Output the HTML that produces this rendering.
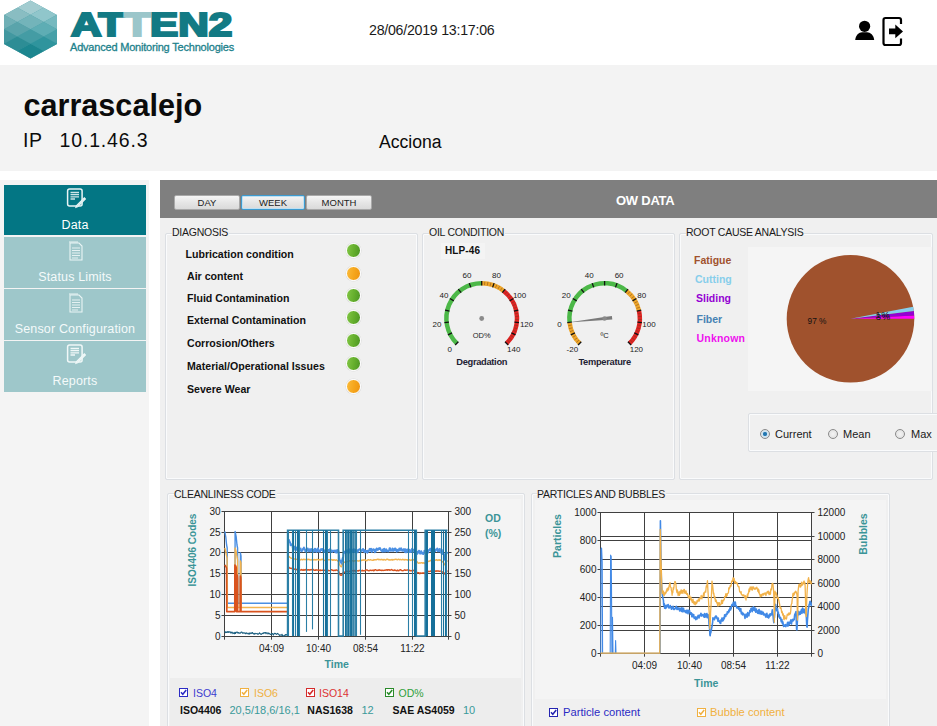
<!DOCTYPE html>
<html><head><meta charset="utf-8"><title>ATTEN2 - OW Data</title>
<style>
*{box-sizing:border-box;margin:0;padding:0}
html,body{width:937px;height:726px;overflow:hidden;background:#fff;font-family:"Liberation Sans",Arial,sans-serif;color:#111}
.a{position:absolute;white-space:nowrap}
#hdr{left:0;top:0;width:937px;height:65px;background:#fff}
#band{left:0;top:65px;width:937px;height:106px;background:#f3f3f3}
#side{left:0;top:180px;width:149px;height:546px;background:#f4f4f4}
.nav{position:absolute;left:4px;width:142px;height:50.6px;background:#9ec7ca;color:#f4fafa;font-size:12.5px;letter-spacing:0.15px;text-align:center}
.nav.on{background:#037684;color:#fff}
.nav .lbl{position:absolute;left:0;right:0;top:33px;line-height:14px}
.nav svg{position:absolute;left:59.5px;top:3px}
#main{left:160px;top:180px;width:777px;height:546px;background:#f0f0f0}
#bar{left:160px;top:180px;width:777px;height:37.7px;background:#7f7f7f}
.btn{position:absolute;top:195px;height:15px;border:1px solid #a9a9a9;border-radius:2px;background:linear-gradient(#f6f6f6,#e6e6e6 50%,#dadada);font-size:9.5px;color:#222;text-align:center;line-height:13px}
.btn.sel{border-color:#3d9bd0;box-shadow:inset 0 0 0 1px #bfe0f2}
.gb{position:absolute;border:1px solid #dcdfe3;border-radius:2px;box-shadow:inset 0 0 0 1px #fafbfc}
.gbt{position:absolute;font-size:10.5px;letter-spacing:-0.25px;color:#1a1a1a;background:#f0f0f0;padding:0 1px 0 0;line-height:12px}
.di{position:absolute;left:187px;font-size:10.6px;font-weight:bold;color:#111;line-height:13px}
.led{position:absolute;left:345.5px;width:15.4px;height:15.4px;border-radius:50%;border:1.4px solid #fff;box-shadow:0 0 0 0.6px #dcdcdc}
.led.g{background:linear-gradient(100deg,#82c646,#64ae2c 55%,#4c9524)}
.led.o{background:linear-gradient(100deg,#fbbb3a,#f5a51c 55%,#ee9410)}
.gl{font-family:"Liberation Sans",sans-serif;font-size:8px;fill:#222}
.gu{font-family:"Liberation Sans",sans-serif;font-size:7.5px;fill:#222}
.pl2{font-family:"Liberation Sans",sans-serif;font-size:9.5px;letter-spacing:-1px;fill:#141420}
.gt{font-family:"Liberation Sans",sans-serif;font-size:9.3px;letter-spacing:-0.3px;font-weight:bold;fill:#1e2233}
.al{font-family:"Liberation Sans",sans-serif;font-size:10px;fill:#222}
.pl{font-family:"Liberation Sans",sans-serif;font-size:8.3px;fill:#111}
.lg{position:absolute;left:694px;font-size:10.5px;font-weight:bold;line-height:13px}
.rb{position:absolute;top:429px;width:10px;height:10px;border-radius:50%;border:1px solid #8a8a8a;background:radial-gradient(circle,#f4f4f4,#dcdcdc)}
.rl{position:absolute;top:427px;font-size:11px;color:#1a1a1a;line-height:14px}
.cb{display:inline-block;width:8.5px;height:8.5px;border:1px solid currentColor;position:relative;top:0px;margin-right:5.5px;font-size:8px;line-height:7px;text-align:center;font-weight:bold}
.tl{position:absolute;font-size:10.5px;line-height:13px}
</style></head><body>
<div class="a" id="hdr"></div>
<svg width="62" height="62" viewBox="0 0 62 62" style="position:absolute;left:0;top:0"><defs><clipPath id="hc"><polygon points="30.5,0.5 57,15 57,44 30.5,58.5 4,44 4,15"/></clipPath></defs><polygon points="30.5,0.5 57,15 57,44 30.5,58.5 4,44 4,15" fill="#4a9ea6"/><g clip-path="url(#hc)"><polygon points="4,0.2 17.2,7.5 4,14.8 -9.2,7.5" fill="rgb(158,199,203)"/><polygon points="30.5,0.2 43.8,7.5 30.5,14.8 17.2,7.5" fill="rgb(162,204,208)"/><polygon points="57,0.2 70.2,7.5 57,14.8 43.8,7.5" fill="rgb(166,210,214)"/><polygon points="-9.2,7.5 4,14.8 -9.2,22 -22.5,14.8" fill="rgb(137,189,194)"/><polygon points="17.2,7.5 30.5,14.8 17.2,22 4,14.8" fill="rgb(137,189,194)"/><polygon points="43.8,7.5 57,14.8 43.8,22 30.5,14.8" fill="rgb(144,198,203)"/><polygon points="70.2,7.5 83.5,14.8 70.2,22 57,14.8" fill="rgb(144,198,203)"/><polygon points="4,14.8 17.2,22 4,29.2 -9.2,22" fill="rgb(112,176,182)"/><polygon points="30.5,14.8 43.8,22 30.5,29.2 17.2,22" fill="rgb(115,180,186)"/><polygon points="57,14.8 70.2,22 57,29.2 43.8,22" fill="rgb(118,185,191)"/><polygon points="-9.2,22 4,29.2 -9.2,36.5 -22.5,29.2" fill="rgb(90,164,171)"/><polygon points="17.2,22 30.5,29.2 17.2,36.5 4,29.2" fill="rgb(90,164,171)"/><polygon points="43.8,22 57,29.2 43.8,36.5 30.5,29.2" fill="rgb(94,173,180)"/><polygon points="70.2,22 83.5,29.2 70.2,36.5 57,29.2" fill="rgb(94,173,180)"/><polygon points="4,29.2 17.2,36.5 4,43.8 -9.2,36.5" fill="rgb(66,152,160)"/><polygon points="30.5,29.2 43.8,36.5 30.5,43.8 17.2,36.5" fill="rgb(68,156,164)"/><polygon points="57,29.2 70.2,36.5 57,43.8 43.8,36.5" fill="rgb(70,160,168)"/><polygon points="-9.2,36.5 4,43.8 -9.2,51 -22.5,43.8" fill="rgb(45,141,149)"/><polygon points="17.2,36.5 30.5,43.8 17.2,51 4,43.8" fill="rgb(45,141,149)"/><polygon points="43.8,36.5 57,43.8 43.8,51 30.5,43.8" fill="rgb(47,148,157)"/><polygon points="70.2,36.5 83.5,43.8 70.2,51 57,43.8" fill="rgb(47,148,157)"/><polygon points="4,43.8 17.2,51 4,58.2 -9.2,51" fill="rgb(27,131,140)"/><polygon points="30.5,43.8 43.8,51 30.5,58.2 17.2,51" fill="rgb(28,134,143)"/><polygon points="57,43.8 70.2,51 57,58.2 43.8,51" fill="rgb(28,138,147)"/><polygon points="-9.2,51 4,58.2 -9.2,65.5 -22.5,58.2" fill="rgb(17,123,132)"/><polygon points="17.2,51 30.5,58.2 17.2,65.5 4,58.2" fill="rgb(17,123,132)"/><polygon points="43.8,51 57,58.2 43.8,65.5 30.5,58.2" fill="rgb(18,129,139)"/><polygon points="70.2,51 83.5,58.2 70.2,65.5 57,58.2" fill="rgb(18,129,139)"/><polygon points="4,58.2 17.2,65.5 4,72.8 -9.2,65.5" fill="rgb(13,117,127)"/><polygon points="30.5,58.2 43.8,65.5 30.5,72.8 17.2,65.5" fill="rgb(14,120,130)"/><polygon points="57,58.2 70.2,65.5 57,72.8 43.8,65.5" fill="rgb(14,123,133)"/></g></svg>
<div class="a" style="left:71px;top:7px;font-size:32.5px;font-weight:bold;color:#137a84;letter-spacing:0px;-webkit-text-stroke:2.2px currentColor;transform:scaleX(1.3);transform-origin:0 0;line-height:37px">AT<span style="color:#9bc6ca;-webkit-text-stroke:2.2px #9bc6ca">T</span>EN2</div>
<div class="a" style="left:70px;top:40.8px;font-size:11px;color:#1c818b;letter-spacing:-0.2px;-webkit-text-stroke:0.3px currentColor;line-height:13px">Advanced Monitoring Technologies</div>
<div class="a" style="left:369px;top:21.5px;font-size:14.2px;letter-spacing:-0.25px;color:#1a1a1a;line-height:16px">28/06/2019 13:17:06</div>
<svg class="a" style="left:850px;top:14px" width="60" height="36" viewBox="850 14 60 36">
  <circle cx="864.6" cy="26.3" r="5.6" fill="#000"/>
  <path d="M855.2,40 C855.6,35 859,32.2 862,32.2 L867.2,32.2 C870.2,32.2 873.8,35 874.2,40 Z" fill="#000"/>
  <path d="M901,24 L901,20 Q901,18 899,18 L885.5,18 Q883.5,18 883.5,20 L883.5,43 Q883.5,45 885.5,45 L899,45 Q901,45 901,43 L901,38.5" fill="none" stroke="#000" stroke-width="2.2"/>
  <path d="M889,28.6 L895.3,28.6 L895.3,24.6 L903,31.4 L895.3,38.2 L895.3,34.2 L889,34.2 Z" fill="#000"/>
</svg>

<div class="a" id="band"></div>
<div class="a" style="left:23.5px;top:87px;font-size:30.6px;font-weight:bold;color:#0b0b0b;line-height:36px">carrascalejo</div>
<div class="a" style="left:23px;top:129px;font-size:19.5px;letter-spacing:0.6px;color:#0b0b0b;line-height:22px">IP</div>
<div class="a" style="left:59.5px;top:129px;font-size:19.5px;color:#0b0b0b;letter-spacing:0.85px;line-height:22px">10.1.46.3</div>
<div class="a" style="left:379px;top:132px;font-size:17.6px;color:#0b0b0b;line-height:21px">Acciona</div>

<div class="a" id="side"></div>
<div class="nav on" style="top:184.9px"><svg width="22" height="22" viewBox="0 0 22 22"><rect x="3.6" y="1" width="14.5" height="17" rx="2" fill="none" stroke="#e8f4f5" stroke-width="1.5"/><path d="M6.5 4.5h8.5M6.5 6.6h8.5M6.5 8.8h8.5M6.5 11h4.5" stroke="#cfe6e8" stroke-width="1.3"/><path d="M12.5 17.8 L20.3 10 L21.3 11 L13.5 18.8 L12 19.3 Z" fill="#037684" stroke="#e8f4f5" stroke-width="1.3"/></svg><div class="lbl">Data</div></div>
<div class="nav" style="top:237px"><svg width="22" height="22" viewBox="0 0 22 22"><path d="M6 3 h9 l3 3 v14 h-12 z" fill="none" stroke="#eaf5f5" stroke-width="1.1"/><path d="M5 2 h9" stroke="#eaf5f5" stroke-width="1"/><path d="M8 8h8M8 10.5h8M8 13h8M8 15.5h8M8 18h6" stroke="#e4f1f2" stroke-width="1"/></svg><div class="lbl">Status Limits</div></div>
<div class="nav" style="top:289.1px"><svg width="22" height="22" viewBox="0 0 22 22"><path d="M6 3 h9 l3 3 v14 h-12 z" fill="none" stroke="#eaf5f5" stroke-width="1.1"/><path d="M5 2 h9" stroke="#eaf5f5" stroke-width="1"/><path d="M8 8h8M8 10.5h8M8 13h8M8 15.5h8M8 18h6" stroke="#e4f1f2" stroke-width="1"/></svg><div class="lbl">Sensor Configuration</div></div>
<div class="nav" style="top:341.2px"><svg width="22" height="22" viewBox="0 0 22 22"><rect x="3.6" y="1" width="14.5" height="17" rx="2" fill="none" stroke="#f0f8f8" stroke-width="1.5"/><path d="M6.5 4.5h8.5M6.5 6.6h8.5M6.5 8.8h8.5M6.5 11h4.5" stroke="#f0f8f8" stroke-width="1.3"/><path d="M12.5 17.8 L20.3 10 L21.3 11 L13.5 18.8 L12 19.3 Z" fill="#9ec7ca" stroke="#f0f8f8" stroke-width="1.3"/></svg><div class="lbl">Reports</div></div>

<div class="a" id="main"></div>
<div class="a" id="bar"></div>
<div class="btn" style="left:174px;width:66px">DAY</div>
<div class="btn sel" style="left:241px;width:64px">WEEK</div>
<div class="btn" style="left:306px;width:66px">MONTH</div>
<div class="a" style="left:616px;top:193px;font-size:13px;letter-spacing:-0.25px;font-weight:bold;color:#fff;line-height:15px">OW DATA</div>

<!-- group boxes -->
<div class="gb" style="left:165px;top:233px;width:253px;height:247px"></div>
<div class="gbt" style="left:172px;top:226px">DIAGNOSIS</div>
<div class="gb" style="left:422px;top:233px;width:253px;height:247px"></div>
<div class="gbt" style="left:429px;top:226px">OIL CONDITION</div>
<div class="gb" style="left:679px;top:233px;width:254px;height:247px"></div>
<div class="gbt" style="left:686px;top:226px">ROOT CAUSE ANALYSIS</div>

<div class="di" style="top:248px;left:185.5px">Lubrication condition</div>
<div class="di" style="top:270px">Air content</div>
<div class="di" style="top:292px">Fluid Contamination</div>
<div class="di" style="top:314px">External Contamination</div>
<div class="di" style="top:337px">Corrosion/Others</div>
<div class="di" style="top:360px">Material/Operational Issues</div>
<div class="di" style="top:383px">Severe Wear</div>
<div class="led g" style="top:243px"></div>
<div class="led o" style="top:265.7px"></div>
<div class="led g" style="top:287.7px"></div>
<div class="led g" style="top:309.7px"></div>
<div class="led g" style="top:332.7px"></div>
<div class="led g" style="top:355.7px"></div>
<div class="led o" style="top:378.7px"></div>

<div class="a" style="left:441px;top:243px;width:44px;height:16px;background:#f4f4f4"></div>
<div class="a" style="left:445px;top:244px;font-size:10px;letter-spacing:0.1px;font-weight:bold;color:#111;line-height:13px">HLP-46</div>

<div class="lg" style="top:254px;color:#a0522d">Fatigue</div>
<div class="lg" style="top:273px;left:695px;color:#87ceeb">Cutting</div>
<div class="lg" style="top:292px;left:696px;color:#9400d3">Sliding</div>
<div class="lg" style="top:313px;left:696.5px;color:#4682b4">Fiber</div>
<div class="lg" style="top:332px;left:696.5px;letter-spacing:0.2px;color:#ee10ee">Unknown</div>
<div class="a" style="left:748px;top:247px;width:184px;height:144px;background:#f5f5f5"></div>

<div class="gb" style="left:748px;top:413px;width:200px;height:39px;background:#f0f0f0"></div>
<div class="rb" style="left:760px;background:radial-gradient(circle,#1f6fa8 0,#2c7fb8 30%,#cfe3f0 45%,#e8e8e8)"></div>
<div class="rl" style="left:775px">Current</div>
<div class="rb" style="left:828px"></div>
<div class="rl" style="left:843px">Mean</div>
<div class="rb" style="left:895px"></div>
<div class="rl" style="left:911px">Max</div>

<div class="gb" style="left:167px;top:493px;width:358px;height:240px"></div>
<div class="gbt" style="left:174px;top:488px">CLEANLINESS CODE</div>
<div class="a" style="left:170px;top:499px;width:351px;height:179px;background:#f4f4f4"></div>
<div class="a" style="left:170px;top:678px;width:351px;height:48px;background:#ededed"></div>

<div class="gb" style="left:531px;top:493px;width:359px;height:240px"></div>
<div class="gbt" style="left:537px;top:488px">PARTICLES AND BUBBLES</div>
<div class="a" style="left:535px;top:500px;width:351px;height:199px;background:#f4f4f4"></div>

<svg width="937" height="726" style="position:absolute;left:0;top:0" viewBox="0 0 937 726"><path d="M456.8,343.4 A35.2,35.2 0 0 1 481.7,283.2" fill="none" stroke="#4cb848" stroke-width="4.5"/><path d="M481.7,283.2 A35.2,35.2 0 0 1 503.7,290.9" fill="none" stroke="#eea62a" stroke-width="4.5"/><path d="M503.7,290.9 A35.2,35.2 0 0 1 506.6,343.4" fill="none" stroke="#e02424" stroke-width="4.5"/><line x1="458.4" y1="341.8" x2="455.2" y2="345" stroke="#111" stroke-width="1.3"/><line x1="452" y1="332.8" x2="447.9" y2="334.8" stroke="#111" stroke-width="1.3"/><line x1="448.9" y1="322.2" x2="444.4" y2="322.7" stroke="#111" stroke-width="1.3"/><line x1="449.5" y1="311.2" x2="445.1" y2="310.2" stroke="#111" stroke-width="1.3"/><line x1="453.8" y1="300.9" x2="449.9" y2="298.5" stroke="#111" stroke-width="1.3"/><line x1="461.1" y1="292.7" x2="458.3" y2="289.2" stroke="#111" stroke-width="1.3"/><line x1="470.8" y1="287.4" x2="469.3" y2="283.1" stroke="#111" stroke-width="1.3"/><line x1="481.7" y1="285.5" x2="481.7" y2="281" stroke="#111" stroke-width="1.3"/><line x1="492.6" y1="287.4" x2="494.1" y2="283.1" stroke="#111" stroke-width="1.3"/><line x1="502.3" y1="292.7" x2="505.1" y2="289.2" stroke="#111" stroke-width="1.3"/><line x1="509.6" y1="300.9" x2="513.5" y2="298.5" stroke="#111" stroke-width="1.3"/><line x1="513.9" y1="311.2" x2="518.3" y2="310.2" stroke="#111" stroke-width="1.3"/><line x1="514.5" y1="322.2" x2="519" y2="322.7" stroke="#111" stroke-width="1.3"/><line x1="511.4" y1="332.8" x2="515.5" y2="334.8" stroke="#111" stroke-width="1.3"/><line x1="505" y1="341.8" x2="508.2" y2="345" stroke="#111" stroke-width="1.3"/><line x1="484.5" y1="285.1" x2="484.8" y2="281.6" stroke="#6b3a1a" stroke-opacity="0.55" stroke-width="0.8"/><line x1="487.3" y1="285.5" x2="487.9" y2="282" stroke="#6b3a1a" stroke-opacity="0.55" stroke-width="0.8"/><line x1="490.1" y1="286.1" x2="490.9" y2="282.7" stroke="#6b3a1a" stroke-opacity="0.55" stroke-width="0.8"/><line x1="495.4" y1="287.9" x2="496.8" y2="284.7" stroke="#6b3a1a" stroke-opacity="0.55" stroke-width="0.8"/><line x1="497.9" y1="289.2" x2="499.6" y2="286.1" stroke="#6b3a1a" stroke-opacity="0.55" stroke-width="0.8"/><line x1="500.3" y1="290.6" x2="502.3" y2="287.7" stroke="#6b3a1a" stroke-opacity="0.55" stroke-width="0.8"/><line x1="504.7" y1="294.2" x2="507.1" y2="291.6" stroke="#6b3a1a" stroke-opacity="0.55" stroke-width="0.8"/><line x1="506.7" y1="296.2" x2="509.3" y2="293.8" stroke="#6b3a1a" stroke-opacity="0.55" stroke-width="0.8"/><line x1="508.5" y1="298.4" x2="511.3" y2="296.3" stroke="#6b3a1a" stroke-opacity="0.55" stroke-width="0.8"/><line x1="511.5" y1="303.1" x2="514.6" y2="301.5" stroke="#6b3a1a" stroke-opacity="0.55" stroke-width="0.8"/><line x1="512.6" y1="305.7" x2="515.9" y2="304.3" stroke="#6b3a1a" stroke-opacity="0.55" stroke-width="0.8"/><line x1="513.6" y1="308.3" x2="517" y2="307.3" stroke="#6b3a1a" stroke-opacity="0.55" stroke-width="0.8"/><line x1="514.9" y1="313.8" x2="518.3" y2="313.3" stroke="#6b3a1a" stroke-opacity="0.55" stroke-width="0.8"/><line x1="515.1" y1="316.6" x2="518.6" y2="316.4" stroke="#6b3a1a" stroke-opacity="0.55" stroke-width="0.8"/><line x1="515.2" y1="319.4" x2="518.7" y2="319.5" stroke="#6b3a1a" stroke-opacity="0.55" stroke-width="0.8"/><line x1="514.6" y1="325" x2="518" y2="325.7" stroke="#6b3a1a" stroke-opacity="0.55" stroke-width="0.8"/><line x1="513.9" y1="327.8" x2="517.3" y2="328.7" stroke="#6b3a1a" stroke-opacity="0.55" stroke-width="0.8"/><line x1="513" y1="330.4" x2="516.3" y2="331.7" stroke="#6b3a1a" stroke-opacity="0.55" stroke-width="0.8"/><line x1="510.6" y1="335.5" x2="513.6" y2="337.3" stroke="#6b3a1a" stroke-opacity="0.55" stroke-width="0.8"/><line x1="509" y1="337.9" x2="511.9" y2="339.9" stroke="#6b3a1a" stroke-opacity="0.55" stroke-width="0.8"/><line x1="507.3" y1="340.1" x2="510" y2="342.4" stroke="#6b3a1a" stroke-opacity="0.55" stroke-width="0.8"/><text x="449.8" y="351.8" text-anchor="middle" class="gl">0</text><text x="437" y="326.5" text-anchor="middle" class="gl">20</text><text x="444" y="297.6" text-anchor="middle" class="gl">40</text><text x="466.9" y="278.4" text-anchor="middle" class="gl">60</text><text x="496.5" y="278.4" text-anchor="middle" class="gl">80</text><text x="519.6" y="297.6" text-anchor="middle" class="gl">100</text><text x="526.6" y="326.5" text-anchor="middle" class="gl">120</text><text x="513.8" y="351.8" text-anchor="middle" class="gl">140</text><text x="481.7" y="337.5" text-anchor="middle" class="gu">OD%</text><text x="481.7" y="365" text-anchor="middle" class="gt">Degradation</text><circle cx="481.7" cy="318.5" r="2.4" fill="#8a8a8a"/><path d="M579.7,343.4 A35.2,35.2 0 0 1 569.6,322.4" fill="none" stroke="#eea62a" stroke-width="4.5"/><path d="M569.6,322.4 A35.2,35.2 0 0 1 626.6,290.9" fill="none" stroke="#4cb848" stroke-width="4.5"/><path d="M626.6,290.9 A35.2,35.2 0 0 1 639,310.7" fill="none" stroke="#eea62a" stroke-width="4.5"/><path d="M639,310.7 A35.2,35.2 0 0 1 629.5,343.4" fill="none" stroke="#e02424" stroke-width="4.5"/><line x1="581.3" y1="341.8" x2="578.1" y2="345" stroke="#111" stroke-width="1.3"/><line x1="574.9" y1="332.8" x2="570.8" y2="334.8" stroke="#111" stroke-width="1.3"/><line x1="571.8" y1="322.2" x2="567.3" y2="322.7" stroke="#111" stroke-width="1.3"/><line x1="572.4" y1="311.2" x2="568" y2="310.2" stroke="#111" stroke-width="1.3"/><line x1="576.7" y1="300.9" x2="572.8" y2="298.5" stroke="#111" stroke-width="1.3"/><line x1="584" y1="292.7" x2="581.2" y2="289.2" stroke="#111" stroke-width="1.3"/><line x1="593.7" y1="287.4" x2="592.2" y2="283.1" stroke="#111" stroke-width="1.3"/><line x1="604.6" y1="285.5" x2="604.6" y2="281" stroke="#111" stroke-width="1.3"/><line x1="615.5" y1="287.4" x2="617" y2="283.1" stroke="#111" stroke-width="1.3"/><line x1="625.2" y1="292.7" x2="628" y2="289.2" stroke="#111" stroke-width="1.3"/><line x1="632.5" y1="300.9" x2="636.4" y2="298.5" stroke="#111" stroke-width="1.3"/><line x1="636.8" y1="311.2" x2="641.2" y2="310.2" stroke="#111" stroke-width="1.3"/><line x1="637.4" y1="322.2" x2="641.9" y2="322.7" stroke="#111" stroke-width="1.3"/><line x1="634.3" y1="332.8" x2="638.4" y2="334.8" stroke="#111" stroke-width="1.3"/><line x1="627.9" y1="341.8" x2="631.1" y2="345" stroke="#111" stroke-width="1.3"/><line x1="579" y1="340.1" x2="576.3" y2="342.4" stroke="#6b3a1a" stroke-opacity="0.55" stroke-width="0.8"/><line x1="577.3" y1="337.9" x2="574.4" y2="339.9" stroke="#6b3a1a" stroke-opacity="0.55" stroke-width="0.8"/><line x1="575.7" y1="335.5" x2="572.7" y2="337.3" stroke="#6b3a1a" stroke-opacity="0.55" stroke-width="0.8"/><line x1="573.3" y1="330.4" x2="570" y2="331.7" stroke="#6b3a1a" stroke-opacity="0.55" stroke-width="0.8"/><line x1="572.4" y1="327.8" x2="569" y2="328.7" stroke="#6b3a1a" stroke-opacity="0.55" stroke-width="0.8"/><line x1="571.7" y1="325" x2="568.3" y2="325.7" stroke="#6b3a1a" stroke-opacity="0.55" stroke-width="0.8"/><line x1="627.6" y1="294.2" x2="630" y2="291.6" stroke="#6b3a1a" stroke-opacity="0.55" stroke-width="0.8"/><line x1="629.6" y1="296.2" x2="632.2" y2="293.8" stroke="#6b3a1a" stroke-opacity="0.55" stroke-width="0.8"/><line x1="631.4" y1="298.4" x2="634.2" y2="296.3" stroke="#6b3a1a" stroke-opacity="0.55" stroke-width="0.8"/><line x1="634.4" y1="303.1" x2="637.5" y2="301.5" stroke="#6b3a1a" stroke-opacity="0.55" stroke-width="0.8"/><line x1="635.5" y1="305.7" x2="638.8" y2="304.3" stroke="#6b3a1a" stroke-opacity="0.55" stroke-width="0.8"/><line x1="636.5" y1="308.3" x2="639.9" y2="307.3" stroke="#6b3a1a" stroke-opacity="0.55" stroke-width="0.8"/><line x1="637.8" y1="313.8" x2="641.2" y2="313.3" stroke="#6b3a1a" stroke-opacity="0.55" stroke-width="0.8"/><line x1="638" y1="316.6" x2="641.5" y2="316.4" stroke="#6b3a1a" stroke-opacity="0.55" stroke-width="0.8"/><line x1="638.1" y1="319.4" x2="641.6" y2="319.5" stroke="#6b3a1a" stroke-opacity="0.55" stroke-width="0.8"/><line x1="637.5" y1="325" x2="640.9" y2="325.7" stroke="#6b3a1a" stroke-opacity="0.55" stroke-width="0.8"/><line x1="636.8" y1="327.8" x2="640.2" y2="328.7" stroke="#6b3a1a" stroke-opacity="0.55" stroke-width="0.8"/><line x1="635.9" y1="330.4" x2="639.2" y2="331.7" stroke="#6b3a1a" stroke-opacity="0.55" stroke-width="0.8"/><line x1="633.5" y1="335.5" x2="636.5" y2="337.3" stroke="#6b3a1a" stroke-opacity="0.55" stroke-width="0.8"/><line x1="631.9" y1="337.9" x2="634.8" y2="339.9" stroke="#6b3a1a" stroke-opacity="0.55" stroke-width="0.8"/><line x1="630.2" y1="340.1" x2="632.9" y2="342.4" stroke="#6b3a1a" stroke-opacity="0.55" stroke-width="0.8"/><text x="572.4" y="351.8" text-anchor="middle" class="gl">-20</text><text x="559.4" y="326.5" text-anchor="middle" class="gl">0</text><text x="566.2" y="297.6" text-anchor="middle" class="gl">20</text><text x="589.3" y="278.4" text-anchor="middle" class="gl">40</text><text x="619.1" y="278.4" text-anchor="middle" class="gl">60</text><text x="641.8" y="297.6" text-anchor="middle" class="gl">80</text><text x="649" y="326.5" text-anchor="middle" class="gl">100</text><text x="636.4" y="351.8" text-anchor="middle" class="gl">120</text><text x="604.6" y="337.5" text-anchor="middle" class="gu">ºC</text><text x="604.6" y="365" text-anchor="middle" class="gt">Temperature</text><polygon points="567.8,322.6 604.8,319.9 612.3,319.4 611.9,315.9 604.4,317.1" fill="#7a7a7a"/><circle cx="604.6" cy="318.5" r="2.2" fill="#8a8a8a"/></svg>
<svg width="937" height="726" style="position:absolute;left:0;top:0" viewBox="0 0 937 726"><circle cx="850.5" cy="318.8" r="63.8" fill="#a0522d"/><path d="M850.5,318.8 L914.3,318.8 A63.8,63.8 0 0 0 914.2,315.5 Z" fill="#ff00ff"/><path d="M850.5,318.8 L914.2,315.5 A63.8,63.8 0 0 0 913.8,311 Z" fill="#9400d3"/><path d="M850.5,318.8 L913.8,311 A63.8,63.8 0 0 0 913.2,306.8 Z" fill="#87ceeb"/><text x="817" y="324" text-anchor="middle" class="pl">97 %</text><text x="875.3" y="318.3" class="pl2">1 %</text><text x="875.8" y="320.3" class="pl2">3 %</text><rect x="224.5" y="511.1" width="224" height="125.6" fill="#fff"/><line x1="221.5" y1="636.5" x2="451.5" y2="636.5" stroke="#404040" stroke-width="1"/><text x="220.5" y="640" text-anchor="end" class="al">0</text><text x="454.5" y="640" class="al">0</text><line x1="221.5" y1="615.5" x2="451.5" y2="615.5" stroke="#404040" stroke-width="1"/><text x="220.5" y="619" text-anchor="end" class="al">5</text><text x="454.5" y="619" class="al">50</text><line x1="221.5" y1="594.5" x2="451.5" y2="594.5" stroke="#404040" stroke-width="1"/><text x="220.5" y="598" text-anchor="end" class="al">10</text><text x="454.5" y="598" class="al">100</text><line x1="221.5" y1="573.5" x2="451.5" y2="573.5" stroke="#404040" stroke-width="1"/><text x="220.5" y="577" text-anchor="end" class="al">15</text><text x="454.5" y="577" class="al">150</text><line x1="221.5" y1="552.5" x2="451.5" y2="552.5" stroke="#404040" stroke-width="1"/><text x="220.5" y="556" text-anchor="end" class="al">20</text><text x="454.5" y="556" class="al">200</text><line x1="221.5" y1="532.5" x2="451.5" y2="532.5" stroke="#404040" stroke-width="1"/><text x="220.5" y="536" text-anchor="end" class="al">25</text><text x="454.5" y="536" class="al">250</text><line x1="221.5" y1="511.5" x2="451.5" y2="511.5" stroke="#404040" stroke-width="1"/><text x="220.5" y="515" text-anchor="end" class="al">30</text><text x="454.5" y="515" class="al">300</text><line x1="224.5" y1="511.1" x2="224.5" y2="639.7" stroke="#404040" stroke-width="1"/><line x1="271.5" y1="511.1" x2="271.5" y2="639.7" stroke="#404040" stroke-width="1"/><line x1="318.5" y1="511.1" x2="318.5" y2="639.7" stroke="#404040" stroke-width="1"/><line x1="365.5" y1="511.1" x2="365.5" y2="639.7" stroke="#404040" stroke-width="1"/><line x1="412.5" y1="511.1" x2="412.5" y2="639.7" stroke="#404040" stroke-width="1"/><line x1="448.5" y1="511.1" x2="448.5" y2="639.7" stroke="#404040" stroke-width="1"/><text x="271.5" y="652.2" text-anchor="middle" class="al">04:09</text><text x="318.5" y="652.2" text-anchor="middle" class="al">10:40</text><text x="365.5" y="652.2" text-anchor="middle" class="al">08:54</text><text x="412.5" y="652.2" text-anchor="middle" class="al">11:22</text><polyline points="224.5,632.2 225,631.8 225.5,632.6 226,631.8 226.5,632.4 227,632.3 227.5,631.7 228,632.4 228.5,631.7 229,632.3 229.5,631.8 230,631.7 230.5,632.3 231,633.2 231.5,632.2 232,632.1 232.5,632.8 233,633.6 233.5,633.2 234,632.8 234.5,633.7 235,632.3 235.5,633.4 236,632.7 236.5,632.2 237,632 237.5,632.3 238,633.3 238.5,632.5 239,633 239.5,633.3 240,632.9 240.5,633.1 241,632.3 241.5,632 242,632.3 242.5,633.2 243,633 243.5,632.8 244,633.2 244.5,633.1 245,632.8 245.5,633.6 246,633.7 246.5,632.9 247,633.3 247.5,633.3 248,634 248.5,633.9 249,633.1 249.5,634.1 250,632.9 250.5,633.1 251,633.7 251.5,632.9 252,633.2 252.5,632.5 253,633.4 253.5,633.9 254,633.7 254.5,634.2 255,633.3 255.5,633.7 256,633.7 256.5,633.6 257,633.4 257.5,634 258,634.4 258.5,633.7 259,633.8 259.5,632.8 260,633.6 260.5,633.8 261,634.4 261.5,634.3 262,633.4 262.5,633.2 263,633.7 263.5,632.7 264,633.2 264.5,632.8 265,632.6 265.5,632.5 266,633.7 266.5,632.9 267,632.9 267.5,633.1 268,634.1 268.5,633 269,633.3 269.5,633.6 270,634.3 270.5,634.4 271,634.6 271.5,633.6 272,633.6 272.5,633.5 273,634.5 273.5,635 274,633.7 274.5,633.4 275,633.4 275.5,633.5 276,634 276.5,634.4 277,633.9 277.5,633.4 278,634 278.5,634.1 279,634.6 279.5,635.4 280,635.3 280.5,634.9 281,635.1 281.5,635.2 282,634.2 282.5,635.5 283,635.7 283.5,635.9 284,635.9 284.5,635.2 285,635.1 285.5,634.5 286,635.3 286.5,634.6 287,634.4" fill="none" stroke="#1a5f80" stroke-width="1.1" stroke-opacity="1" stroke-linejoin="round"/><polyline points="224.8,531.4 225.8,537 226.6,545 227.2,548 227.4,603.3 235,603.3 235.1,531.5 236.2,537 237,545 237.6,548 237.8,603.3 240.2,603.3 240.4,553 241,556 241.2,603.3 287.3,603.3" fill="none" stroke="#4a8fe3" stroke-width="1.4" stroke-opacity="1" stroke-linejoin="round"/><polyline points="224.8,548 225.8,552 226.6,556 227.1,558 227.3,607.5 235,607.5 235.1,548 236.2,552 237,557 237.6,560 237.7,607.5 240.2,607.5 240.4,561 241,563 241.1,607.5 287.3,607.5" fill="none" stroke="#f2b451" stroke-width="1.4" stroke-opacity="1" stroke-linejoin="round"/><polyline points="224.8,565 225.6,566 226.5,568 226.8,611.6 234.8,611.6 234.9,565 235.8,566 236.3,568 236.5,611.6 237.1,611.6 237.2,575 237.5,578 237.6,611.6 240.2,611.6 240.4,576 240.8,578 241,611.6 287.3,611.6" fill="none" stroke="#d9531e" stroke-width="1.7" stroke-opacity="1" stroke-linejoin="round"/><polyline points="287.8,538.8 288.1,538.9 288.4,540 288.7,539.7 289,539.8 289.3,540.8 289.6,541.3 289.9,542.8 290.2,542.3 290.5,545.4 290.8,545.4 291.1,544 291.4,544.2 291.7,544.9 292,545.3 292.3,544.8 292.6,547.5 292.9,548.9 293.2,547.6 293.5,547.5 293.8,546.3 294.1,546.3 294.4,547.4 294.7,547.6 295,549.9 295.3,548 295.6,547.1 295.9,550.2 296.2,549.5 296.5,547.9 296.8,549 297.1,547.4 297.4,548.8 297.7,550.8 298,550.9 298.3,550.4 298.6,548.7 298.9,548.6 299.2,547.9 299.5,549.9 299.8,549.6 300.1,550.4 300.4,549 300.7,548.3 301,550.3 301.3,551.4 301.6,551.2 301.9,551 302.2,551 302.5,550.7 302.8,548.8 303.1,549.4 303.4,549 303.7,547.7 304,547.4 304.3,548.3 304.6,548.4 304.9,550.1 305.2,551.4 305.5,549.9 305.8,551.4 306.1,551.9 306.4,551.9 306.7,549.8 307,548.8 307.3,548.6 307.6,548.4 307.9,548.4 308.2,550 308.5,551.4 308.8,551.5 309.1,550.3 309.4,550.6 309.7,551.2 310,548.8 310.3,550.3 310.6,551.6 310.9,551.4 311.2,551.3 311.5,550.3 311.8,548.9 312.1,550.8 312.4,549.6 312.7,551 313,552 313.3,550.2 313.6,549.7 313.9,551.6 314.2,551.3 314.5,549.2 314.8,548.5 315.1,548.5 315.4,551.1 315.7,551.5 316,549.2 316.3,551.1 316.6,552.1 316.9,551.2 317.2,549.9 317.5,550.3 317.8,548.8 318.1,548.1 318.4,551.3 318.7,551 319,550.5 319.3,551.8 319.6,550.4 319.9,551.6 320.2,551.7 320.5,549.5 320.8,549.1 321.1,549.2 321.4,549 321.7,550.2 322,549.4 322.3,549.7 322.6,548.8 322.9,551.4 323.2,550 323.5,550 323.8,550.5 324.1,551.8 324.4,550.4 324.7,551.8 325,550.7 325.3,550.5 325.6,550.4 325.9,548.6 326.2,549.7 326.5,549 326.8,548.2 327.1,550.9 327.4,549.3 327.7,550 328,551.1 328.3,550.7 328.6,549.8 328.9,550.3 329.2,550.6 329.5,551.4 329.8,549.2 330.1,550.3 330.4,549.5 330.7,549.4 331,551.1 331.3,550.6 331.6,550.7 331.9,551.4 332.2,552.2 332.5,550.7 332.8,550.9 333.1,550.6 333.4,550.5 333.7,551.2 334,550.5 334.3,550.6 334.6,550.4 334.9,552.1 335.2,551.6 335.5,552.1 335.8,552.5 336.1,550.2 336.4,550.9 336.7,552.5 337,552.7 337.3,550.4 337.6,549.9 337.9,551 338.2,550.1 338.5,550.6 338.8,551.9 339.1,555.7 339.4,558.5 339.7,560.9 340,560.2 340.3,561.8 340.6,562.1 340.9,560.5 341.2,562.9 341.5,564 341.8,560.4 342.1,561.3 342.4,558.8 342.7,557.6 343,558.4 343.3,557.2 343.6,553.6 343.9,552.9 344.2,552.9 344.5,552.2 344.8,551.5 345.1,551.7 345.4,553.1 345.7,550.8 346,552.1 346.3,552 346.6,550.3 346.9,551 347.2,552.1 347.5,551.9 347.8,550.2 348.1,553 348.4,552.9 348.7,553.5 349,550.4 349.3,550.2 349.6,549.2 349.9,551.6 350.2,550.3 350.5,549.5 350.8,550.3 351.1,552.3 351.4,552.5 351.7,550.5 352,549.6 352.3,552.2 352.6,551.5 352.9,551.9 353.2,549.7 353.5,549.1 353.8,551.2 354.1,550.8 354.4,549.4 354.7,552.2 355,551.8 355.3,552.3 355.6,549.8 355.9,552 356.2,549.7 356.5,552 356.8,551.1 357.1,550.4 357.4,551.1 357.7,552.5 358,550.6 358.3,549.6 358.6,550.7 358.9,550 359.2,549.3 359.5,549.4 359.8,549 360.1,549.4 360.4,549.9 360.7,550 361,551.7 361.3,550.4 361.6,550.9 361.9,549.8 362.2,550.2 362.5,549.1 362.8,549.6 363.1,548.9 363.4,551.3 363.7,551.3 364,549.9 364.3,550.6 364.6,552.5 364.9,550 365.2,551.9 365.5,550.9 365.8,550.9 366.1,552.1 366.4,550.8 366.7,550.9 367,551.5 367.3,552.8 367.6,550.7 367.9,552 368.2,551.8 368.5,551.5 368.8,550.6 369.1,550.1 369.4,549 369.7,548.9 370,548.7 370.3,551 370.6,549.8 370.9,549.2 371.2,548.7 371.5,551.3 371.8,552.1 372.1,551.5 372.4,550 372.7,549.4 373,549.5 373.3,550 373.6,549.1 373.9,549.9 374.2,549.4 374.5,551.8 374.8,552.4 375.1,551 375.4,549.6 375.7,551.8 376,550 376.3,549.7 376.6,548.3 376.9,549.3 377.2,549.9 377.5,550.1 377.8,549.1 378.1,549.9 378.4,548.3 378.7,548.8 379,548.3 379.3,549.2 379.6,548.2 379.9,547.8 380.2,548.7 380.5,548.7 380.8,550 381.1,550.1 381.4,550.9 381.7,550.8 382,551 382.3,551.6 382.6,550 382.9,549.4 383.2,551.6 383.5,549.1 383.8,550.6 384.1,550.7 384.4,548.5 384.7,550.8 385,551.6 385.3,550.9 385.6,551.1 385.9,551.4 386.2,549 386.5,549.8 386.8,550 387.1,551.2 387.4,551.4 387.7,551.5 388,550.7 388.3,551.6 388.6,551.1 388.9,551 389.2,549.3 389.5,548.1 389.8,548.2 390.1,549.1 390.4,548.3 390.7,550.8 391,550.4 391.3,550.6 391.6,550.6 391.9,550.8 392.2,550.2 392.5,548.3 392.8,550.6 393.1,551.1 393.4,550.3 393.7,550.2 394,550.6 394.3,548.6 394.6,550.5 394.9,549.2 395.2,548.3 395.5,548.7 395.8,550.5 396.1,549.1 396.4,550.6 396.7,551.9 397,550.4 397.3,549.7 397.6,549.8 397.9,550.6 398.2,551.1 398.5,550.7 398.8,550.7 399.1,548.7 399.4,548.4 399.7,548.7 400,550.6 400.3,549.5 400.6,550.1 400.9,548.3 401.2,548.1 401.5,548.8 401.8,550.4 402.1,550.9 402.4,551 402.7,549.6 403,550.1 403.3,550.1 403.6,550.1 403.9,548.9 404.2,551.4 404.5,549.5 404.8,551.9 405.1,552.3 405.4,549.1 405.7,549.9 406,551.5 406.3,552.4 406.6,550.8 406.9,549.7 407.2,549.3 407.5,551.8 407.8,549.8 408.1,550.7 408.4,549.3 408.7,550.4 409,552.2 409.3,549.7 409.6,551.6 409.9,551 410.2,552.2 410.5,551.8 410.8,550.1 411.1,552.1 411.4,551.1 411.7,549.2 412,548.7 412.3,550.3 412.6,550.6 412.9,550.1 413.2,549.5 413.5,550 413.8,550.1 414.1,552 414.4,549.6 414.7,551.8 415,552.7 415.3,550.5 415.6,552.9 415.9,552.8 416.2,553.5 416.5,551.6 416.8,551.5 417.1,551.6 417.4,553.9 417.7,553.1 418,552.2 418.3,552.1 418.6,551.6 418.9,550.6 419.2,550.5 419.5,553.1 419.8,551.8 420.1,553.8 420.4,551.8 420.7,551.3 421,552.1 421.3,551.1 421.6,551.5 421.9,553.7 422.2,553.9 422.5,553.7 422.8,553 423.1,553.8 423.4,554.1 423.7,552.8 424,553 424.3,550.7 424.6,552.5 424.9,552 425.2,552.8 425.5,552.5 425.8,551.1 426.1,549.8 426.4,552.5 426.7,550.3 427,550.8 427.3,550.4 427.6,550.1 427.9,551.5 428.2,552.6 428.5,550.2 428.8,550.9 429.1,549.8 429.4,550.3 429.7,549.8 430,548.7 430.3,548.5 430.6,548.6 430.9,551.1 431.2,550.3 431.5,549.1 431.8,551.2 432.1,552.1 432.4,550.3 432.7,548.8 433,548.6 433.3,548.2 433.6,549 433.9,548.3 434.2,548.6 434.5,548.8 434.8,549.9 435.1,551.4 435.4,551.2 435.7,550 436,549.7 436.3,550 436.6,549.6 436.9,549.3 437.2,548.3 437.5,548.8 437.8,551.4 438.1,549 438.4,549.8 438.7,550.4 439,551.4 439.3,549.3 439.6,549 439.9,548.8 440.2,549.6 440.5,550.1 440.8,552.3 441.1,552.7 441.4,553.2 441.7,550.4 442,550 442.3,552.6 442.6,554.1 442.9,553.2 443.2,553.9 443.5,552.5 443.8,554.2 444.1,557.1 444.4,558 444.7,558.9 445,560.1 445.3,556.4 445.6,554.1 445.9,552.8 446.2,552.9 446.5,552.6 446.8,553.4 447.1,552.6 447.4,551.9" fill="none" stroke="#4a8fe3" stroke-width="1.7" stroke-opacity="1" stroke-linejoin="round"/><polyline points="287.8,555.7 288.3,556 288.8,556.5 289.3,556.5 289.8,557.4 290.3,557.4 290.8,558.1 291.3,558.3 291.8,558.1 292.3,558.1 292.8,558.3 293.3,558.8 293.8,559.2 294.3,558.9 294.8,558.9 295.3,559.3 295.8,559.5 296.3,559.4 296.8,559.2 297.3,559.5 297.8,559.1 298.3,559.2 298.8,559.4 299.3,559.9 299.8,559.8 300.3,560 300.8,559.7 301.3,559.4 301.8,559.3 302.3,559.9 302.8,559.9 303.3,559.5 303.8,559.2 304.3,559.4 304.8,559.7 305.3,559.6 305.8,559.4 306.3,559.7 306.8,560 307.3,559.6 307.8,559.2 308.3,559.3 308.8,559.5 309.3,559.8 309.8,559.4 310.3,559.9 310.8,560 311.3,559.8 311.8,559.5 312.3,560 312.8,559.7 313.3,560 313.8,559.6 314.3,559.4 314.8,559.9 315.3,559.6 315.8,560.1 316.3,559.9 316.8,559.5 317.3,559.4 317.8,559.6 318.3,559.8 318.8,560.2 319.3,559.6 319.8,559.6 320.3,559.5 320.8,560.1 321.3,559.6 321.8,559.3 322.3,559.2 322.8,559.5 323.3,560.1 323.8,560.3 324.3,560.2 324.8,560.5 325.3,560.5 325.8,560 326.3,559.6 326.8,560.2 327.3,560.2 327.8,559.6 328.3,559.9 328.8,559.8 329.3,559.8 329.8,559.7 330.3,559.5 330.8,559.3 331.3,559.5 331.8,559.6 332.3,560.2 332.8,559.7 333.3,560.3 333.8,559.8 334.3,559.8 334.8,560.2 335.3,560.4 335.8,560.1 336.3,559.8 336.8,560.1 337.3,560.3 337.8,561 338.3,560.8 338.8,561.8 339.3,564 339.8,565 340.3,565.9 340.8,566.5 341.3,566.8 341.8,565.7 342.3,564.5 342.8,563.6 343.3,563.4 343.8,562.2 344.3,562.1 344.8,562.3 345.3,561.8 345.8,561.5 346.3,562 346.8,561.8 347.3,561.3 347.8,561.5 348.3,561.2 348.8,561 349.3,560.6 349.8,561 350.3,561.4 350.8,561.2 351.3,561.4 351.8,560.7 352.3,560.6 352.8,560.7 353.3,561.2 353.8,561.4 354.3,560.9 354.8,560.6 355.3,560.6 355.8,560.7 356.3,561 356.8,560.5 357.3,560.9 357.8,560.9 358.3,561 358.8,561 359.3,560.8 359.8,560.5 360.3,560.3 360.8,560.3 361.3,560.6 361.8,560.1 362.3,560 362.8,560.4 363.3,560.1 363.8,559.8 364.3,559.7 364.8,560.1 365.3,560 365.8,560.5 366.3,560.7 366.8,560.8 367.3,560.2 367.8,559.8 368.3,559.6 368.8,559.9 369.3,560.1 369.8,560 370.3,559.7 370.8,559.8 371.3,560 371.8,560.1 372.3,560.2 372.8,560.3 373.3,560.2 373.8,559.6 374.3,560 374.8,559.7 375.3,559.8 375.8,559.6 376.3,559.9 376.8,559.5 377.3,559.3 377.8,559.3 378.3,559.1 378.8,559.7 379.3,559.7 379.8,559.4 380.3,559.4 380.8,559.9 381.3,559.7 381.8,559.3 382.3,559.7 382.8,559.8 383.3,560.1 383.8,559.4 384.3,559.5 384.8,559.8 385.3,560 385.8,560.1 386.3,559.4 386.8,559.3 387.3,559.2 387.8,559.2 388.3,559.9 388.8,559.8 389.3,560.1 389.8,559.7 390.3,560 390.8,559.8 391.3,559.5 391.8,559.9 392.3,560.2 392.8,559.5 393.3,559.7 393.8,559.8 394.3,559.5 394.8,559.5 395.3,559.3 395.8,559.3 396.3,559.3 396.8,559.7 397.3,559.9 397.8,559.5 398.3,559.2 398.8,559.4 399.3,559.8 399.8,559.5 400.3,559.5 400.8,559.4 401.3,559.9 401.8,559.9 402.3,559.5 402.8,559.3 403.3,559.5 403.8,559.8 404.3,560 404.8,559.5 405.3,559.4 405.8,559.9 406.3,559.8 406.8,559.7 407.3,559.6 407.8,560.2 408.3,559.9 408.8,560 409.3,559.8 409.8,559.8 410.3,560.2 410.8,560.5 411.3,560.1 411.8,559.7 412.3,560.1 412.8,559.8 413.3,559.5 413.8,560.1 414.3,560.2 414.8,560.9 415.3,561 415.8,561.7 416.3,561.8 416.8,561.8 417.3,561.9 417.8,562.7 418.3,563.1 418.8,563.4 419.3,562.8 419.8,563 420.3,562.9 420.8,563 421.3,562.7 421.8,562.7 422.3,562.9 422.8,563.3 423.3,562.8 423.8,562.9 424.3,563.2 424.8,563.5 425.3,562.8 425.8,562.2 426.3,562.6 426.8,562.6 427.3,562 427.8,561.3 428.3,561.6 428.8,561.1 429.3,561.2 429.8,560.9 430.3,560.9 430.8,560.3 431.3,560.6 431.8,560.2 432.3,560.2 432.8,560.6 433.3,560.7 433.8,560.2 434.3,560 434.8,560 435.3,560.2 435.8,560.1 436.3,559.8 436.8,559.8 437.3,560.2 437.8,560.5 438.3,559.8 438.8,560 439.3,560.2 439.8,559.7 440.3,560.4 440.8,560.3 441.3,560.8 441.8,561.2 442.3,561.7 442.8,561.7 443.3,562.3 443.8,563.2 444.3,563.9 444.8,564.8 445.3,564.4 445.8,563.3 446.3,561.9 446.8,561.3 447.3,560.4" fill="none" stroke="#f2b451" stroke-width="1.4" stroke-opacity="1" stroke-linejoin="round"/><polyline points="287.8,565.8 288.3,566.7 288.8,567.4 289.3,567.8 289.8,568 290.3,568.4 290.8,568.3 291.3,568.3 291.8,568.6 292.3,568.5 292.8,568.8 293.3,569.1 293.8,568.8 294.3,569.3 294.8,569.1 295.3,569.6 295.8,569.8 296.3,569.7 296.8,569.2 297.3,569.4 297.8,569.4 298.3,569.9 298.8,569.4 299.3,569.8 299.8,570.2 300.3,570.1 300.8,570.1 301.3,569.6 301.8,570.1 302.3,569.8 302.8,570.2 303.3,570.3 303.8,569.6 304.3,570 304.8,570.2 305.3,569.6 305.8,569.5 306.3,569.9 306.8,569.5 307.3,570.1 307.8,569.7 308.3,570.1 308.8,569.6 309.3,569.8 309.8,570.2 310.3,569.7 310.8,569.6 311.3,569.8 311.8,569.7 312.3,569.4 312.8,569.4 313.3,569.4 313.8,570.2 314.3,570.2 314.8,570.4 315.3,569.9 315.8,570.2 316.3,569.8 316.8,570 317.3,570.1 317.8,570 318.3,570.4 318.8,570.3 319.3,570.2 319.8,570.5 320.3,569.9 320.8,570.5 321.3,570.4 321.8,570.2 322.3,570.4 322.8,570.1 323.3,570.6 323.8,570.4 324.3,570.2 324.8,570.5 325.3,570.3 325.8,570 326.3,570.4 326.8,569.9 327.3,570.4 327.8,570.1 328.3,570.4 328.8,570.8 329.3,570.6 329.8,570.6 330.3,570.3 330.8,569.9 331.3,569.8 331.8,569.8 332.3,570.3 332.8,570.3 333.3,570.4 333.8,570.8 334.3,570.3 334.8,570.1 335.3,570.5 335.8,570.1 336.3,569.9 336.8,570.3 337.3,570.3 337.8,570.5 338.3,570.6 338.8,571.7 339.3,573.2 339.8,574.2 340.3,575.1 340.8,575.2 341.3,575 341.8,575.3 342.3,574.2 342.8,573.3 343.3,572.4 343.8,572.2 344.3,572.3 344.8,572.2 345.3,571.8 345.8,571.5 346.3,571.1 346.8,571.5 347.3,571.5 347.8,571.2 348.3,571.4 348.8,571.2 349.3,571.5 349.8,571.4 350.3,570.9 350.8,571.3 351.3,570.7 351.8,570.9 352.3,570.8 352.8,570.6 353.3,570.4 353.8,570.9 354.3,570.4 354.8,570.7 355.3,571.2 355.8,570.6 356.3,570.4 356.8,570.7 357.3,570.7 357.8,570.9 358.3,571.1 358.8,570.5 359.3,570.5 359.8,570.4 360.3,570.1 360.8,570.8 361.3,570.9 361.8,570.9 362.3,570.3 362.8,570.8 363.3,570.9 363.8,570.6 364.3,570.8 364.8,570.6 365.3,570.3 365.8,570 366.3,570 366.8,569.9 367.3,570 367.8,570.5 368.3,570.6 368.8,570.8 369.3,570.7 369.8,570.3 370.3,570.3 370.8,570.3 371.3,570.5 371.8,570.4 372.3,570.1 372.8,570.3 373.3,570.7 373.8,570.1 374.3,570.5 374.8,569.9 375.3,569.8 375.8,569.8 376.3,570.2 376.8,570.5 377.3,570.5 377.8,570.1 378.3,570.4 378.8,570 379.3,569.8 379.8,570.3 380.3,570.2 380.8,570.3 381.3,570.3 381.8,570.6 382.3,570.2 382.8,570.4 383.3,570.4 383.8,570.5 384.3,570.2 384.8,570.3 385.3,570.2 385.8,570 386.3,569.8 386.8,570.1 387.3,569.7 387.8,570.3 388.3,569.9 388.8,569.6 389.3,569.6 389.8,570.3 390.3,570.1 390.8,569.8 391.3,569.6 391.8,569.5 392.3,570.1 392.8,570.3 393.3,570.4 393.8,570.5 394.3,569.9 394.8,570.2 395.3,570.1 395.8,570.5 396.3,570.6 396.8,570.8 397.3,570.1 397.8,570.5 398.3,570.7 398.8,570.9 399.3,570.2 399.8,570 400.3,569.8 400.8,569.7 401.3,570.4 401.8,570.6 402.3,570.6 402.8,570.7 403.3,570.6 403.8,570.3 404.3,570 404.8,569.8 405.3,570.4 405.8,570.1 406.3,570.1 406.8,570.2 407.3,569.9 407.8,570 408.3,570.1 408.8,570.5 409.3,570.3 409.8,570.2 410.3,570.8 410.8,570.6 411.3,570.8 411.8,570.7 412.3,570.2 412.8,570.3 413.3,570.3 413.8,570.7 414.3,570.6 414.8,571.2 415.3,571.5 415.8,571.5 416.3,572.3 416.8,572.2 417.3,573 417.8,572.9 418.3,572.7 418.8,572.8 419.3,573.3 419.8,573.7 420.3,572.9 420.8,573.1 421.3,573.1 421.8,573.4 422.3,572.9 422.8,573 423.3,572.9 423.8,573.3 424.3,572.9 424.8,573.4 425.3,572.8 425.8,572.4 426.3,572.5 426.8,572.3 427.3,571.7 427.8,571.9 428.3,571.3 428.8,571.6 429.3,571.5 429.8,571.4 430.3,571.3 430.8,571 431.3,570.9 431.8,570.9 432.3,571.3 432.8,570.7 433.3,571.2 433.8,570.7 434.3,570.6 434.8,570.6 435.3,571.2 435.8,571.1 436.3,570.9 436.8,571.3 437.3,570.9 437.8,570.9 438.3,571 438.8,571.2 439.3,571.3 439.8,571.3 440.3,571.1 440.8,571.1 441.3,571.1 441.8,571.8 442.3,572 442.8,572.2 443.3,572.1 443.8,572.7 444.3,573.5 444.8,573.9 445.3,573.3 445.8,572.7 446.3,572.5 446.8,571.4 447.3,570.5" fill="none" stroke="#d9531e" stroke-width="1.4" stroke-opacity="1" stroke-linejoin="round"/><polyline points="287.6,636.0 287.6,530.3 338.5,530.3 338.5,636.0 343.2,636.0 343.2,530.3 416.3,530.3 416.3,636.0 425.2,636.0 425.2,530.3 447.5,530.3" fill="none" stroke="#2b7fa6" stroke-width="1.6"/><line x1="288.5" y1="530.3" x2="288.5" y2="636.1" stroke="#2b7fa6" stroke-width="1.1"/><line x1="292.5" y1="530.3" x2="292.5" y2="636.1" stroke="#2b7fa6" stroke-width="1.1"/><line x1="293.5" y1="530.3" x2="293.5" y2="636.1" stroke="#17709a" stroke-width="1.1"/><line x1="295.5" y1="530.3" x2="295.5" y2="636.1" stroke="#2b7fa6" stroke-width="1.1"/><line x1="297.5" y1="530.3" x2="297.5" y2="636.1" stroke="#17709a" stroke-width="1.1"/><line x1="298.5" y1="530.3" x2="298.5" y2="636.1" stroke="#17709a" stroke-width="1.1"/><line x1="299.5" y1="530.3" x2="299.5" y2="636.1" stroke="#2b7fa6" stroke-width="1.1"/><line x1="306.5" y1="530.3" x2="306.5" y2="631.9" stroke="#2b7fa6" stroke-width="1.1"/><line x1="312.5" y1="530.3" x2="312.5" y2="629.4" stroke="#2b7fa6" stroke-width="1.1"/><line x1="323.5" y1="530.3" x2="323.5" y2="636.1" stroke="#17709a" stroke-width="1.1"/><line x1="325.5" y1="530.3" x2="325.5" y2="636.1" stroke="#17709a" stroke-width="1.1"/><line x1="326.5" y1="530.3" x2="326.5" y2="636.1" stroke="#17709a" stroke-width="1.1"/><line x1="327.5" y1="530.3" x2="327.5" y2="636.1" stroke="#2b7fa6" stroke-width="1.1"/><line x1="330.5" y1="530.3" x2="330.5" y2="636.1" stroke="#2b7fa6" stroke-width="1.1"/><line x1="345.7" y1="530.3" x2="345.7" y2="636.1" stroke="#17709a" stroke-width="1.5"/><line x1="347" y1="530.3" x2="347" y2="636.1" stroke="#17709a" stroke-width="1.5"/><line x1="348.5" y1="530.3" x2="348.5" y2="636.1" stroke="#17709a" stroke-width="1.5"/><line x1="350.2" y1="530.3" x2="350.2" y2="636.1" stroke="#17709a" stroke-width="1.5"/><line x1="351.5" y1="530.3" x2="351.5" y2="636.1" stroke="#17709a" stroke-width="1.5"/><line x1="353.1" y1="530.3" x2="353.1" y2="636.1" stroke="#17709a" stroke-width="1.5"/><line x1="355.1" y1="530.3" x2="355.1" y2="636.1" stroke="#17709a" stroke-width="1.5"/><line x1="356.5" y1="530.3" x2="356.5" y2="636.1" stroke="#2b7fa6" stroke-width="1.1"/><line x1="360.5" y1="530.3" x2="360.5" y2="634.8" stroke="#2b7fa6" stroke-width="1.1"/><line x1="408.5" y1="530.3" x2="408.5" y2="636.1" stroke="#2b7fa6" stroke-width="1.1"/><line x1="412.5" y1="530.3" x2="412.5" y2="636.1" stroke="#2b7fa6" stroke-width="1.1"/><line x1="415.0" y1="530.3" x2="415.0" y2="636.1" stroke="#17709a" stroke-width="2"/><line x1="427.0" y1="530.3" x2="427.0" y2="636.1" stroke="#17709a" stroke-width="2"/><line x1="432.0" y1="530.3" x2="432.0" y2="636.1" stroke="#17709a" stroke-width="2"/><line x1="434.0" y1="530.3" x2="434.0" y2="636.1" stroke="#17709a" stroke-width="2"/><line x1="441.5" y1="530.3" x2="441.5" y2="636.1" stroke="#2b7fa6" stroke-width="1.1"/><line x1="443.5" y1="530.3" x2="443.5" y2="636.1" stroke="#17709a" stroke-width="1.1"/><line x1="445.5" y1="530.3" x2="445.5" y2="636.1" stroke="#17709a" stroke-width="1.1"/><line x1="446.5" y1="530.3" x2="446.5" y2="636.1" stroke="#2b7fa6" stroke-width="1.1"/><rect x="600.5" y="512.8" width="211" height="140.9" fill="#fff"/><line x1="597.5" y1="653.5" x2="811.5" y2="653.5" stroke="#404040" stroke-width="1"/><text x="596.5" y="657" text-anchor="end" class="al">0</text><line x1="597.5" y1="625.5" x2="811.5" y2="625.5" stroke="#404040" stroke-width="1"/><text x="596.5" y="629" text-anchor="end" class="al">200</text><line x1="597.5" y1="597.5" x2="811.5" y2="597.5" stroke="#404040" stroke-width="1"/><text x="596.5" y="601" text-anchor="end" class="al">400</text><line x1="597.5" y1="569.5" x2="811.5" y2="569.5" stroke="#404040" stroke-width="1"/><text x="596.5" y="573" text-anchor="end" class="al">600</text><line x1="597.5" y1="540.5" x2="811.5" y2="540.5" stroke="#404040" stroke-width="1"/><text x="596.5" y="544" text-anchor="end" class="al">800</text><line x1="597.5" y1="512.5" x2="811.5" y2="512.5" stroke="#404040" stroke-width="1"/><text x="596.5" y="516" text-anchor="end" class="al">1000</text><line x1="600.5" y1="653.5" x2="814.5" y2="653.5" stroke="#404040" stroke-width="1"/><text x="817.5" y="657" class="al">0</text><line x1="600.5" y1="630.5" x2="814.5" y2="630.5" stroke="#404040" stroke-width="1"/><text x="817.5" y="634" class="al">2000</text><line x1="600.5" y1="606.5" x2="814.5" y2="606.5" stroke="#404040" stroke-width="1"/><text x="817.5" y="610" class="al">4000</text><line x1="600.5" y1="583.5" x2="814.5" y2="583.5" stroke="#404040" stroke-width="1"/><text x="817.5" y="587" class="al">6000</text><line x1="600.5" y1="559.5" x2="814.5" y2="559.5" stroke="#404040" stroke-width="1"/><text x="817.5" y="563" class="al">8000</text><line x1="600.5" y1="536.5" x2="814.5" y2="536.5" stroke="#404040" stroke-width="1"/><text x="817.5" y="540" class="al">10000</text><line x1="600.5" y1="512.5" x2="814.5" y2="512.5" stroke="#404040" stroke-width="1"/><text x="817.5" y="516" class="al">12000</text><line x1="600.5" y1="512.8" x2="600.5" y2="656.7" stroke="#404040" stroke-width="1"/><line x1="644.5" y1="512.8" x2="644.5" y2="656.7" stroke="#404040" stroke-width="1"/><line x1="689.5" y1="512.8" x2="689.5" y2="656.7" stroke="#404040" stroke-width="1"/><line x1="733.5" y1="512.8" x2="733.5" y2="656.7" stroke="#404040" stroke-width="1"/><line x1="777.5" y1="512.8" x2="777.5" y2="656.7" stroke="#404040" stroke-width="1"/><line x1="811.5" y1="512.8" x2="811.5" y2="656.7" stroke="#404040" stroke-width="1"/><text x="644.5" y="669.2" text-anchor="middle" class="al">04:09</text><text x="689.5" y="669.2" text-anchor="middle" class="al">10:40</text><text x="733.5" y="669.2" text-anchor="middle" class="al">08:54</text><text x="777.5" y="669.2" text-anchor="middle" class="al">11:22</text><polyline points="600.8,653.2 601,549.4 601.6,548 602.2,562.1 602.6,653.2 610.2,653.2 610.6,555.1 611.2,556.5 611.5,587.5 611.9,653.2 612.5,617.3 613,653.2 615.3,653.2 615.6,640.5 616,653.2 660,653.2" fill="none" stroke="#4189e6" stroke-width="1.1" stroke-opacity="1" stroke-linejoin="round"/><polyline points="660,653.2 660.4,520.7 660.7,542.3 661,563.3 661.3,576.5 661.6,583.9 661.9,590.3 662.2,592.9 662.5,596.1 662.8,597 663.1,599.3 663.4,600 663.7,604.6 664,605.4 664.3,603.7 664.6,608.1 664.9,605 665.2,605.7 665.5,608.5 665.8,608.2 666.1,607.9 666.4,606.6 666.7,605.3 667,607 667.3,605 667.6,605.1 667.9,606 668.2,604.6 668.5,605.9 668.8,608 669.1,608 669.4,607.1 669.7,607.6 670,607 670.3,605.5 670.6,607.2 670.9,606.8 671.2,608.2 671.5,609.2 671.8,607.4 672.1,607.7 672.4,608.6 672.7,607.3 673,606.3 673.3,608.3 673.6,609.4 673.9,609.2 674.2,608.9 674.5,609.5 674.8,608.9 675.1,608.7 675.4,607.9 675.7,607.1 676,608.4 676.3,606.4 676.6,607.5 676.9,609.3 677.2,609.5 677.5,609.2 677.8,607.5 678.1,608 678.4,608.3 678.7,609.1 679,608.4 679.3,609.5 679.6,610.9 679.9,608 680.2,609.5 680.5,610.4 680.8,609 681.1,609.2 681.4,611.4 681.7,607.8 682,609.4 682.3,608.1 682.6,610.6 682.9,611.9 683.2,610.3 683.5,608.2 683.8,609.9 684.1,610.2 684.4,611.2 684.7,610.6 685,611.2 685.3,612.2 685.6,611.2 685.9,610.6 686.2,613 686.5,610.4 686.8,612 687.1,611.2 687.4,612.8 687.7,610.4 688,613.8 688.3,611.9 688.6,610.3 688.9,611.1 689.2,611.9 689.5,610.5 689.8,612.1 690.1,612.6 690.4,614.1 690.7,613.1 691,612.8 691.3,612.7 691.6,615.2 691.9,616.8 692.2,615.5 692.5,614.1 692.8,616.6 693.1,615.6 693.4,614.8 693.7,614.5 694,617.5 694.3,618.4 694.6,618.1 694.9,617.5 695.2,618 695.5,616.9 695.8,619.7 696.1,617.4 696.4,618.2 696.7,619 697,619 697.3,617.4 697.6,616.2 697.9,617 698.2,615.2 698.5,617.8 698.8,616.1 699.1,617.9 699.4,615.5 699.7,615.4 700,614.8 700.3,615.4 700.6,614.4 700.9,613.3 701.2,616.2 701.5,614.8 701.8,614.3 702.1,614.4 702.4,615.2 702.7,615.1 703,615.9 703.3,616.1 703.6,614.8 703.9,617 704.2,617.1 704.5,613.5 704.8,616.2 705.1,617.1 705.4,616.9 705.7,614.1 706,616.8 706.3,616.6 706.6,613.9 706.9,613.5 707.2,617.7 707.5,617.4 707.8,615.7 708.1,614.8 708.4,615 708.7,617.8 709,623.9 709.3,626.1 709.6,628.6 709.9,635.3 710.2,635.6 710.5,631.5 710.8,632.8 711.1,630.6 711.4,629.9 711.7,627.7 712,626.6 712.3,624.3 712.6,622.5 712.9,617.7 713.2,618.7 713.5,618.3 713.8,619.1 714.1,618 714.4,619.7 714.7,618.6 715,617.1 715.3,616.6 715.6,616.1 715.9,617.6 716.2,616.1 716.5,617.9 716.8,617 717.1,618.6 717.4,619.1 717.7,619.6 718,621.3 718.3,618.1 718.6,621.3 718.9,620.5 719.2,621 719.5,621.7 719.8,622.9 720.1,621.2 720.4,621.3 720.7,623.5 721,619.7 721.3,621.1 721.6,621 721.9,618 722.2,619.7 722.5,620 722.8,620.9 723.1,618.1 723.4,620.1 723.7,618.1 724,617.3 724.3,618.6 724.6,614.7 724.9,616.7 725.2,616.3 725.5,614.7 725.8,616.4 726.1,614.2 726.4,613.9 726.7,613.8 727,614.5 727.3,611.9 727.6,612 727.9,611.7 728.2,611.8 728.5,612.7 728.8,610.1 729.1,611.6 729.4,609.6 729.7,609.3 730,607.8 730.3,608.1 730.6,609.9 730.9,608.5 731.2,608.4 731.5,606 731.8,605 732.1,604.4 732.4,605.1 732.7,605.1 733,605.4 733.3,602.3 733.6,604.7 733.9,606 734.2,604.7 734.5,602.3 734.8,603 735.1,601.9 735.4,602.5 735.7,605.9 736,605.4 736.3,605.9 736.6,606.9 736.9,608 737.2,607.2 737.5,607.4 737.8,607.8 738.1,608.5 738.4,608.5 738.7,609.2 739,607.6 739.3,609.6 739.6,609.4 739.9,611 740.2,608.7 740.5,608.9 740.8,608.7 741.1,612.2 741.4,613.8 741.7,613.3 742,612.2 742.3,614.3 742.6,614.9 742.9,614.3 743.2,613.2 743.5,613.5 743.8,614.4 744.1,614.4 744.4,615.2 744.7,616.6 745,618.5 745.3,615.3 745.6,616.8 745.9,614.4 746.2,614.1 746.5,616.8 746.8,616 747.1,617.2 747.4,615 747.7,612.5 748,613.3 748.3,614.2 748.6,615.6 748.9,615.8 749.2,613.4 749.5,612.4 749.8,610.6 750.1,612.3 750.4,610.5 750.7,609.6 751,608.6 751.3,608.1 751.6,610.7 751.9,608.5 752.2,611.6 752.5,608.1 752.8,610.5 753.1,607.7 753.4,606.8 753.7,609.8 754,608.5 754.3,610.5 754.6,608.6 754.9,607.7 755.2,610.9 755.5,611.3 755.8,612.2 756.1,611.9 756.4,609.1 756.7,611.1 757,612 757.3,611.2 757.6,613.2 757.9,610.7 758.2,613.5 758.5,613.1 758.8,610 759.1,609.5 759.4,612.3 759.7,613.7 760,610.9 760.3,611.4 760.6,613.5 760.9,611.5 761.2,614.3 761.5,613.3 761.8,611.3 762.1,612.3 762.4,613.6 762.7,613.3 763,614.4 763.3,612.4 763.6,615 763.9,613.7 764.2,614.7 764.5,615 764.8,614.2 765.1,614 765.4,615.8 765.7,617 766,616.6 766.3,615.7 766.6,614.4 766.9,613.2 767.2,617.1 767.5,616.8 767.8,617.4 768.1,615.4 768.4,616.3 768.7,618 769,617.4 769.3,616 769.6,614.2 769.9,614.1 770.2,615.9 770.5,613.7 770.8,614.4 771.1,613.9 771.4,614.9 771.7,614.4 772,611.8 772.3,609.8 772.6,611.7 772.9,614.4 773.2,617.2 773.5,620.2 773.8,622.6 774.1,618.8 774.4,617.6 774.7,614 775,610.4 775.3,605.1 775.6,604.4 775.9,607.5 776.2,608.6 776.5,609 776.8,610.8 777.1,609.3 777.4,608.6 777.7,611.2 778,613.5 778.3,612 778.6,614.8 778.9,616.9 779.2,614.9 779.5,616.9 779.8,618.3 780.1,618.2 780.4,617.4 780.7,617.9 781,620.6 781.3,621.7 781.6,620.9 781.9,619.5 782.2,622.8 782.5,623.7 782.8,621.9 783.1,623.5 783.4,625.6 783.7,626.4 784,625.4 784.3,625.4 784.6,626.3 784.9,625.1 785.2,624.8 785.5,624.5 785.8,626.6 786.1,625.3 786.4,625.8 786.7,625 787,625.2 787.3,623.4 787.6,622.4 787.9,626.2 788.2,624.1 788.5,622.3 788.8,624.1 789.1,625 789.4,622.2 789.7,623.4 790,622.4 790.3,622.8 790.6,620.5 790.9,619.9 791.2,623.8 791.5,623.9 791.8,621.9 792.1,621.4 792.4,619.6 792.7,621 793,619.3 793.3,620.8 793.6,619.9 793.9,619.5 794.2,619.6 794.5,616.1 794.8,614 795.1,613.9 795.4,613.3 795.7,612.4 796,611.6 796.3,620.5 796.6,629.1 796.9,629.9 797.2,625 797.5,618.5 797.8,612.4 798.1,613.8 798.4,613 798.7,611.4 799,614.6 799.3,612 799.6,612.7 799.9,612.9 800.2,614.2 800.5,613 800.8,611.4 801.1,611.1 801.4,609.6 801.7,612.7 802,613.3 802.3,609.8 802.6,608.1 802.9,608.6 803.2,609.2 803.5,611.9 803.8,612.6 804.1,612.6 804.4,609.3 804.7,612.1 805,612.4 805.3,612.4 805.6,614 805.9,610.4 806.2,613.2 806.5,620.5 806.8,626.5 807.1,627.1 807.4,620.7 807.7,616.9 808,613.2 808.3,609.1 808.6,608.1 808.9,606.4 809.2,604.4 809.5,604.4 809.8,601.9 810.1,601.3 810.4,601.6 810.7,604.5 811,602.8 811.3,606.1" fill="none" stroke="#4189e6" stroke-width="1.6" stroke-opacity="1" stroke-linejoin="round"/><polyline points="600.5,653.2 659.8,653.2 660.2,529.3 660.6,540.3 660.9,557.6 661.3,566.8 661.6,580.4 662,591.5 662.3,593.6 662.7,590.8 663,592 663.4,591.1 663.7,595.1 664.1,595.8 664.4,594.6 664.8,593.2 665.1,592.2 665.5,593.9 665.8,592.4 666.2,592.5 666.5,590 666.9,589.6 667.2,588.4 667.6,591 667.9,590.4 668.3,587.7 668.6,589.6 669,586.4 669.3,585.5 669.7,583.4 670,582.6 670.4,587 670.7,587 671.1,587.6 671.4,590.6 671.8,591.8 672.1,595.3 672.5,590.8 672.8,592.7 673.2,587.7 673.5,589.5 673.9,587.7 674.2,584.1 674.6,583.5 674.9,581.4 675.3,581.7 675.6,582.8 676,584.8 676.3,589.3 676.7,591.3 677,592.5 677.4,590 677.7,591.6 678.1,595.5 678.4,592.1 678.8,594.3 679.1,592.6 679.5,595.3 679.8,591.3 680.2,594 680.5,592.2 680.9,590.8 681.2,589.8 681.6,593.2 681.9,592.4 682.3,590.5 682.6,591.1 683,593.3 683.3,590.4 683.7,591.3 684,589.4 684.4,589.6 684.7,592.7 685.1,593.4 685.4,591.5 685.8,590.9 686.1,591.1 686.5,593.9 686.8,594.3 687.2,593.6 687.5,593.5 687.9,595.7 688.2,596.9 688.6,597.9 688.9,597.4 689.3,595.9 689.6,595.3 690,598.6 690.3,598 690.7,599.7 691,597.2 691.4,600.5 691.7,599.3 692.1,601.7 692.4,602.5 692.8,601.3 693.1,599.2 693.5,603.1 693.8,602.2 694.2,604.2 694.5,602.1 694.9,601.6 695.2,604.8 695.6,603.6 695.9,602.7 696.3,603.1 696.6,603.7 697,600.7 697.3,602 697.7,601.4 698,601.2 698.4,598.9 698.7,600.7 699.1,601.1 699.4,601 699.8,598 700.1,598.8 700.5,597.3 700.8,598.4 701.2,595.3 701.5,598.2 701.9,598.9 702.2,596.7 702.6,596.1 702.9,595.9 703.3,595.6 703.6,593 704,596.6 704.3,593.6 704.7,592.6 705,591.8 705.4,590.9 705.7,592.1 706.1,587.4 706.4,585.6 706.8,586.8 707.1,583.5 707.5,580.7 707.8,588.1 708.2,594.4 708.5,600.2 708.9,607.9 709.2,612.1 709.6,622 709.9,628.8 710.3,621.5 710.6,612.6 711,605.7 711.3,597.8 711.7,589.4 712,581.1 712.4,584.5 712.7,585.7 713.1,589.9 713.4,593.8 713.8,593.1 714.1,596.3 714.5,598.1 714.8,596.4 715.2,599.7 715.5,601.4 715.9,599.8 716.2,600.2 716.6,602.8 716.9,602.5 717.3,602.4 717.6,605.5 718,606 718.3,603.8 718.7,602.6 719,602.7 719.4,602.9 719.7,605.3 720.1,604.7 720.4,604.9 720.8,604.3 721.1,604.1 721.5,600.2 721.8,601.4 722.2,603.4 722.5,603.5 722.9,600.2 723.2,600.1 723.6,600.8 723.9,599.6 724.3,599.5 724.6,596.7 725,597.2 725.3,597.1 725.7,594.2 726,593.6 726.4,596.6 726.7,595.8 727.1,595.7 727.4,593.7 727.8,593.5 728.1,593.2 728.5,592.5 728.8,587.9 729.2,589.2 729.5,587.1 729.9,587.9 730.2,585.5 730.6,585.4 730.9,586.4 731.3,584.4 731.6,581.5 732,581.3 732.3,580.1 732.7,581.4 733,577.8 733.4,577.9 733.7,580 734.1,578.4 734.4,580.7 734.8,583.3 735.1,582.2 735.5,581.4 735.8,582.5 736.2,583.6 736.5,582.6 736.9,582.8 737.2,583.4 737.6,584.8 737.9,586.2 738.3,586.4 738.6,586.8 739,586.7 739.3,589.4 739.7,591.8 740,591.7 740.4,592.1 740.7,593.1 741.1,591.7 741.4,594.4 741.8,594.3 742.1,595.1 742.5,595.8 742.8,595.5 743.2,595 743.5,594.9 743.9,595 744.2,596.6 744.6,596.6 744.9,597.8 745.3,595.7 745.6,597.1 746,600 746.3,597 746.7,597.1 747,596.2 747.4,594.4 747.7,596.6 748.1,593.1 748.4,594 748.8,590.7 749.1,588.9 749.5,591.6 749.8,589.5 750.2,586.9 750.5,587.9 750.9,588.3 751.2,589.6 751.6,587 751.9,586.9 752.3,590.2 752.6,589.7 753,586.9 753.3,587 753.7,587.1 754,588.5 754.4,588.4 754.7,589.4 755.1,589.4 755.4,587.9 755.8,588.5 756.1,588.6 756.5,588.6 756.8,587.2 757.2,588.7 757.5,589.5 757.9,591.4 758.2,588.8 758.6,592.5 758.9,589.9 759.3,593.7 759.6,594.3 760,594.8 760.3,596.9 760.7,595.4 761,594.4 761.4,595.8 761.7,596.4 762.1,595.3 762.4,593.9 762.8,594 763.1,593.9 763.5,595.1 763.8,593.3 764.2,593.3 764.5,594 764.9,593.3 765.2,592.8 765.6,594.8 765.9,595.5 766.3,593.9 766.6,593.3 767,591.9 767.3,592.1 767.7,591.4 768,593.2 768.4,593.5 768.7,591.2 769.1,594.6 769.4,592.4 769.8,594.3 770.1,594.3 770.5,593.8 770.8,589.4 771.2,588.6 771.5,589.8 771.9,585 772.2,583.3 772.6,584.4 772.9,583.5 773.3,587.9 773.6,591.4 774,600.8 774.3,622.2 774.7,606 775,591.2 775.4,592.8 775.7,592.4 776.1,592.9 776.4,594.8 776.8,594.8 777.1,598.3 777.5,598.4 777.8,598.4 778.2,597.3 778.5,599.3 778.9,600.7 779.2,602.6 779.6,604 779.9,606.5 780.3,608.3 780.6,607.4 781,607.9 781.3,609.8 781.7,612.7 782,611.2 782.4,612.7 782.7,615.2 783.1,613.6 783.4,614.9 783.8,619.1 784.1,619.7 784.5,618 784.8,615.7 785.2,618.6 785.5,618.1 785.9,618.4 786.2,619.1 786.6,618.5 786.9,616.1 787.3,614.2 787.6,614.3 788,615.1 788.3,615.1 788.7,613.4 789,612.9 789.4,614.7 789.7,614.7 790.1,613.1 790.4,613.6 790.8,610.3 791.1,605.1 791.5,603.9 791.8,603.6 792.2,599.6 792.5,598.7 792.9,593.6 793.2,593.3 793.6,595.6 793.9,594.6 794.3,594.5 794.6,592.1 795,592.7 795.3,592.8 795.7,591.2 796,592.4 796.4,591.9 796.7,593.6 797.1,595.5 797.4,620 797.8,611.2 798.1,590.8 798.5,587.6 798.8,585 799.2,584.2 799.5,584.2 799.9,585.6 800.2,587.1 800.6,586.3 800.9,586.8 801.3,583.3 801.6,582.2 802,585.3 802.3,583.6 802.7,584.9 803,583.4 803.4,582 803.7,582 804.1,581 804.4,583.9 804.8,582.4 805.1,585 805.5,600 805.8,614.6 806.2,616.5 806.5,608.2 806.9,595.7 807.2,590.1 807.6,584.3 807.9,581 808.3,578.6 808.6,577.6 809,581.7 809.3,582.4 809.7,580.3 810,582.8 810.4,583.1 810.7,581.1 811.1,582.3 811.4,584.4" fill="none" stroke="#f2b24a" stroke-width="1.3" stroke-opacity="1" stroke-linejoin="round"/></svg>

<!-- chart titles -->
<div class="a" style="left:192.5px;top:550px;transform:translate(-50%,-50%) rotate(-90deg);font-size:10px;font-weight:bold;color:#3b9498;line-height:12px">ISO4406 Codes</div>
<div class="a" style="left:485px;top:512px;font-size:10.5px;font-weight:bold;color:#3b9498;line-height:13px">OD</div>
<div class="a" style="left:485px;top:527px;font-size:10.5px;font-weight:bold;color:#3b9498;line-height:13px">(%)</div>
<div class="a" style="left:324.5px;top:658px;font-size:10.5px;font-weight:bold;color:#3b9498;line-height:13px">Time</div>
<div class="a" style="left:557px;top:536px;transform:translate(-50%,-50%) rotate(-90deg);font-size:10.5px;font-weight:bold;color:#3b9498;line-height:12px">Particles</div>
<div class="a" style="left:863px;top:534px;transform:translate(-50%,-50%) rotate(-90deg);font-size:10.5px;font-weight:bold;color:#3b9498;line-height:12px">Bubbles</div>
<div class="a" style="left:694px;top:677px;font-size:10.5px;font-weight:bold;color:#3b9498;line-height:13px">Time</div>

<!-- legends -->
<svg class="a" style="left:179px;top:688px" width="9" height="9" viewBox="0 0 9 9"><rect x="0.5" y="0.5" width="8" height="8" fill="#fff" stroke="#2b2bc4" stroke-width="1"/><path d="M2,4.3 L3.8,6.3 L7.2,2" fill="none" stroke="#2b2bc4" stroke-width="1.5"/></svg><div class="tl" style="left:193px;top:686.5px;color:#3b3bd0">ISO4</div>
<svg class="a" style="left:240px;top:688px" width="9" height="9" viewBox="0 0 9 9"><rect x="0.5" y="0.5" width="8" height="8" fill="#fff" stroke="#f0b040" stroke-width="1"/><path d="M2,4.3 L3.8,6.3 L7.2,2" fill="none" stroke="#f0b040" stroke-width="1.5"/></svg><div class="tl" style="left:254px;top:686.5px;color:#f0b040">ISO6</div>
<svg class="a" style="left:305.5px;top:688px" width="9" height="9" viewBox="0 0 9 9"><rect x="0.5" y="0.5" width="8" height="8" fill="#fff" stroke="#d42a2a" stroke-width="1"/><path d="M2,4.3 L3.8,6.3 L7.2,2" fill="none" stroke="#d42a2a" stroke-width="1.5"/></svg><div class="tl" style="left:319px;top:686.5px;color:#dc3232">ISO14</div>
<svg class="a" style="left:384.5px;top:688px" width="9" height="9" viewBox="0 0 9 9"><rect x="0.5" y="0.5" width="8" height="8" fill="#fff" stroke="#2a8a2a" stroke-width="1"/><path d="M2,4.3 L3.8,6.3 L7.2,2" fill="none" stroke="#2a8a2a" stroke-width="1.5"/></svg><div class="tl" style="left:398.5px;top:686.5px;color:#2f9f3a">OD%</div>
<div class="tl" style="left:180px;top:703.5px;font-weight:bold;color:#111">ISO4406</div>
<div class="tl" style="left:229.5px;top:703.5px;color:#3a9a9a;font-size:11px">20,5/18,6/16,1</div>
<div class="tl" style="left:307.3px;top:703.5px;font-weight:bold;color:#111">NAS1638</div>
<div class="tl" style="left:361.5px;top:703.5px;color:#3a9a9a;font-size:11px">12</div>
<div class="tl" style="left:392.6px;top:703.5px;font-weight:bold;color:#111">SAE AS4059</div>
<div class="tl" style="left:463px;top:703.5px;color:#3a9a9a;font-size:11px">10</div>
<svg class="a" style="left:549px;top:707.5px" width="9" height="9" viewBox="0 0 9 9"><rect x="0.5" y="0.5" width="8" height="8" fill="#fff" stroke="#2424b0" stroke-width="1"/><path d="M2,4.3 L3.8,6.3 L7.2,2" fill="none" stroke="#2424b0" stroke-width="1.5"/></svg><div class="tl" style="left:563px;top:705.5px;color:#2b2bc4;font-size:11.2px">Particle content</div>
<svg class="a" style="left:696.5px;top:707.5px" width="9" height="9" viewBox="0 0 9 9"><rect x="0.5" y="0.5" width="8" height="8" fill="#fff" stroke="#f0b040" stroke-width="1"/><path d="M2,4.3 L3.8,6.3 L7.2,2" fill="none" stroke="#f0b040" stroke-width="1.5"/></svg><div class="tl" style="left:710px;top:705.5px;color:#f0b040;font-size:11.2px">Bubble content</div>
</body></html>
